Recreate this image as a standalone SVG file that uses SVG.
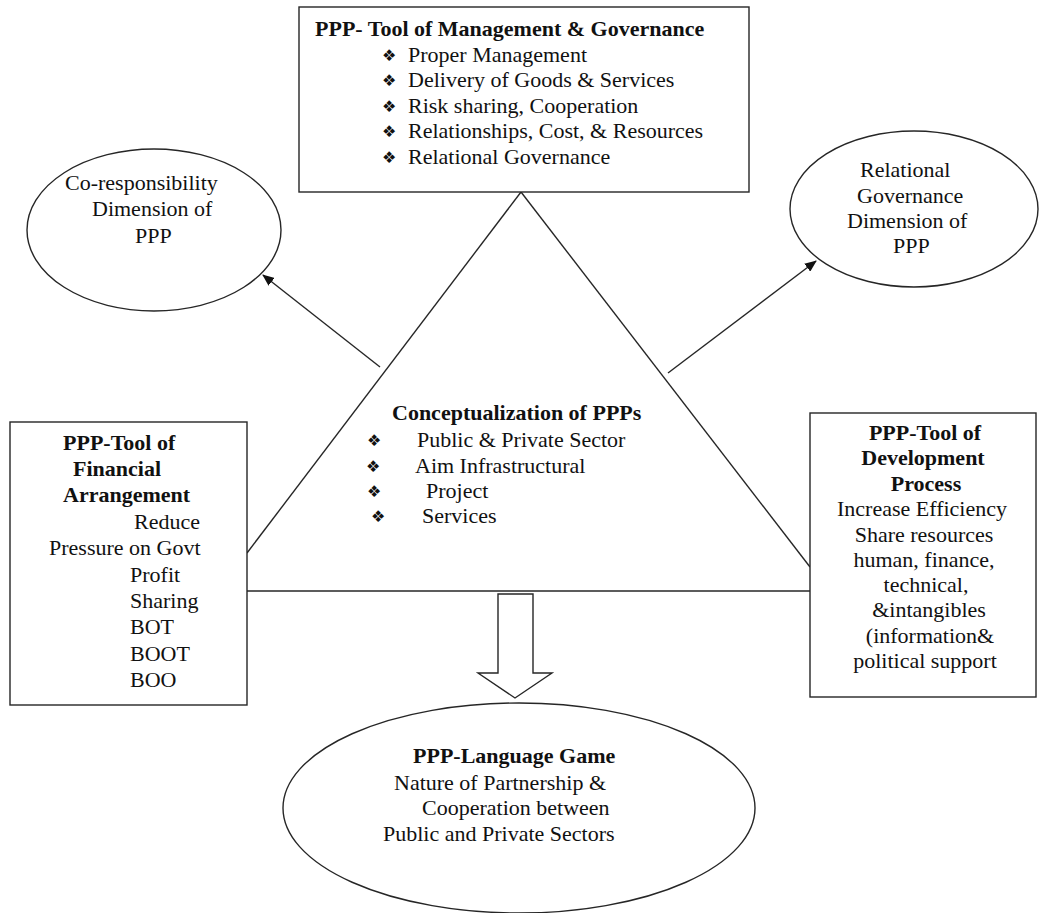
<svg xmlns="http://www.w3.org/2000/svg" width="1039" height="913" viewBox="0 0 1039 913">
<defs>
<style>
.ln{stroke:#262626;stroke-width:1.4;fill:none}
.box{stroke:#262626;stroke-width:1.4;fill:#fff}
.t{font-family:"Liberation Serif","Times New Roman",serif;font-size:22px;fill:#111}
.b{font-weight:bold}
.bl{font-family:"DejaVu Sans",sans-serif;font-size:16px;fill:#111}
</style>
<marker id="ah" viewBox="0 0 12 10" refX="11" refY="5" markerWidth="12" markerHeight="10" markerUnits="userSpaceOnUse" orient="auto">
<path d="M0,0 L12,5 L0,10 Z" fill="#111"/>
</marker>
</defs>
<rect width="1039" height="913" fill="#fff"/>

<g id="connectors">
<line class="ln" x1="521" y1="192" x2="247" y2="553"/>
<line class="ln" x1="521" y1="192" x2="810" y2="567"/>
<line class="ln" x1="247" y1="591" x2="810" y2="591"/>
<line class="ln" x1="380" y1="367" x2="263" y2="275" marker-end="url(#ah)"/>
<line class="ln" x1="668" y1="373" x2="816" y2="261" marker-end="url(#ah)"/>
<path class="box" d="M498,594 L533,594 L533,673 L552,673 L515,698 L478,673 L498,673 Z"/>
</g>

<g id="node-management">
<rect class="box" x="299" y="7" width="450" height="185"/>
<text class="t b" x="315" y="36">PPP- Tool of Management  &amp; Governance</text>
<text class="bl" x="382" y="61">❖</text><text class="t" x="408" y="62">Proper Management</text>
<text class="bl" x="382" y="86">❖</text><text class="t" x="408" y="87">Delivery of Goods &amp; Services</text>
<text class="bl" x="382" y="112">❖</text><text class="t" x="408" y="113">Risk sharing, Cooperation</text>
<text class="bl" x="382" y="137">❖</text><text class="t" x="408" y="138">Relationships, Cost, &amp; Resources</text>
<text class="bl" x="382" y="163">❖</text><text class="t" x="408" y="164">Relational Governance</text>
</g>

<g id="node-coresponsibility">
<ellipse class="box" cx="154" cy="230" rx="127" ry="81"/>
<text class="t" x="65" y="190">Co-responsibility</text>
<text class="t" x="92" y="216">Dimension of</text>
<text class="t" x="135" y="243">PPP</text>
</g>

<g id="node-relational">
<ellipse class="box" cx="914" cy="209" rx="124" ry="78"/>
<text class="t" x="860" y="177">Relational</text>
<text class="t" x="857" y="203">Governance</text>
<text class="t" x="847" y="228">Dimension  of</text>
<text class="t" x="893" y="253">PPP</text>
</g>

<g id="node-concept">
<text class="t b" x="392" y="420">Conceptualization  of PPPs</text>
<text class="bl" x="367" y="446">❖</text><text class="t" x="417" y="447">Public &amp; Private Sector</text>
<text class="bl" x="366" y="472">❖</text><text class="t" x="415" y="473">Aim Infrastructural</text>
<text class="bl" x="367" y="497">❖</text><text class="t" x="426" y="498">Project</text>
<text class="bl" x="371" y="522">❖</text><text class="t" x="422" y="523">Services</text>
</g>

<g id="node-financial">
<rect class="box" x="10" y="422" width="237" height="283"/>
<text class="t b" x="63" y="450">PPP-Tool of</text>
<text class="t b" x="73" y="476">Financial</text>
<text class="t b" x="63" y="502">Arrangement</text>
<text class="t" x="134" y="529">Reduce</text>
<text class="t" x="49" y="555">Pressure on Govt</text>
<text class="t" x="130" y="582">Profit</text>
<text class="t" x="130" y="608">Sharing</text>
<text class="t" x="130" y="634">BOT</text>
<text class="t" x="130" y="661">BOOT</text>
<text class="t" x="130" y="687">BOO</text>
</g>

<g id="node-development" text-anchor="middle">
<rect class="box" x="810" y="413" width="226" height="284"/>
<text class="t b" x="925" y="440">PPP-Tool of</text>
<text class="t b" x="923" y="465">Development</text>
<text class="t b" x="926" y="491">Process</text>
<text class="t" x="922" y="516">Increase Efficiency</text>
<text class="t" x="924" y="542">Share resources</text>
<text class="t" x="924" y="567">human, finance,</text>
<text class="t" x="926" y="592">technical,</text>
<text class="t" x="929" y="617">&amp;intangibles</text>
<text class="t" x="930" y="643">(information&amp;</text>
<text class="t" x="925" y="668">political support</text>
</g>

<g id="node-language">
<ellipse class="box" cx="519" cy="808" rx="236" ry="105"/>
<text class="t b" x="413" y="763">PPP-Language  Game</text>
<text class="t" x="394" y="790">Nature of Partnership &amp;</text>
<text class="t" x="422" y="815">Cooperation between</text>
<text class="t" x="383" y="841">Public and Private Sectors</text>
</g>
</svg>
